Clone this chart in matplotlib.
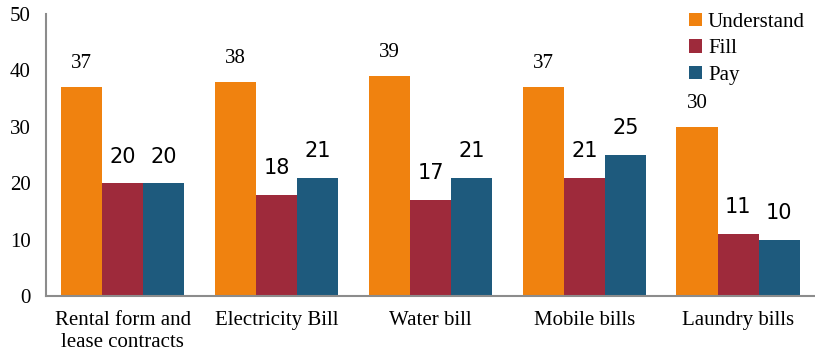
import numpy as np
import matplotlib.pyplot as plt

categories = ['Rental form and\nlease contracts', 'Electricity Bill', 'Water bill',
              'Mobile bills', 'Laundry bills']
understand = [37, 38, 39, 37, 30]
fill = [20, 18, 17, 21, 11]
pay = [20, 21, 21, 25, 10]

serif = 'Liberation Serif'
colors = ['#F0820F', '#9E2A3B', '#1E5A7D']

fig = plt.figure(figsize=(8.15, 3.55), dpi=100)
ax = fig.add_axes([0.0564, 0.166, 0.9436, 0.7946])

x = np.arange(len(categories))
w = 0.267
b1 = ax.bar(x - w, understand, w, color=colors[0], label='Understand')
b2 = ax.bar(x, fill, w, color=colors[1], label='Fill')
b3 = ax.bar(x + w, pay, w, color=colors[2], label='Pay')

for r in b1:
    ax.annotate(f'{r.get_height():.0f}', (r.get_x() + r.get_width() / 2, r.get_height()),
                xytext=(0, 10), textcoords='offset points', ha='center', va='bottom',
                family=serif, fontsize=15)
for bars in (b2, b3):
    for r in bars:
        ax.annotate(f'{r.get_height():.0f}', (r.get_x() + r.get_width() / 2, r.get_height()),
                    xytext=(0, 12), textcoords='offset points', ha='center', va='bottom',
                    family='DejaVu Sans', fontsize=15)

ax.set_xlim(-0.5, len(categories) - 0.5)
ax.set_ylim(0, 50)
ax.set_yticks(range(0, 51, 10))
ax.set_xticks(x)
ax.set_xticklabels(categories, family=serif, fontsize=15)
for t in ax.get_yticklabels():
    t.set_family(serif)
    t.set_fontsize(15)
ax.tick_params(length=0)
ax.tick_params(axis='x', pad=11)
ax.tick_params(axis='y', pad=11)

for s in ('top', 'right'):
    ax.spines[s].set_visible(False)
for s in ('left', 'bottom'):
    ax.spines[s].set_color('#8C8C8C')
    ax.spines[s].set_linewidth(1.5)

ax.legend(loc='upper left', bbox_to_anchor=(0.812, 1.07), frameon=False,
          prop={'family': serif, 'size': 15}, handlelength=0.6, handleheight=0.6,
          handletextpad=0.3, labelspacing=0.35)

fig.savefig('out.png', dpi=100)
